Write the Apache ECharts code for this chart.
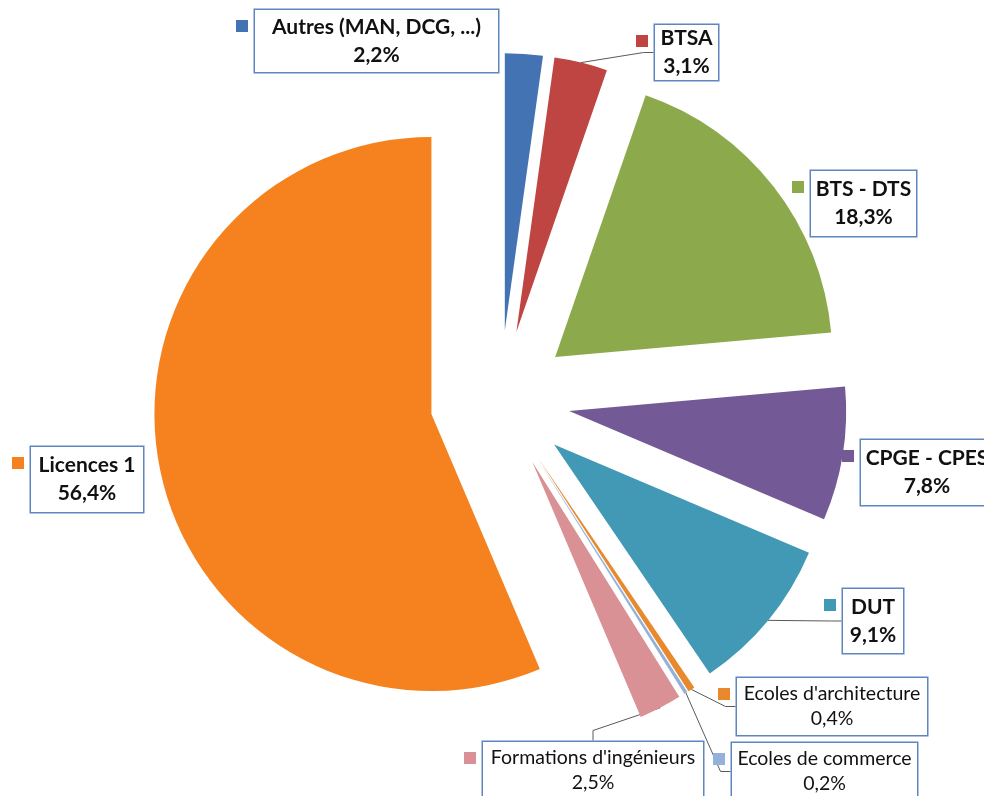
<!DOCTYPE html>
<html>
<head>
<meta charset="utf-8">
<style>
  html, body { margin: 0; padding: 0; background: #fff; }
  #chart { width: 984px; height: 796px; }
</style>
<script src="https://cdn.jsdelivr.net/npm/echarts@6/dist/echarts.min.js"></script>
</head>
<body>
<div id="chart"></div>
<script>
// données
const categories = ['Autres (MAN, DCG, ...)', 'BTSA', 'BTS - DTS', 'CPGE - CPES', 'DUT', "Ecoles d'architecture", 'Ecoles de commerce', "Formations d'ingénieurs", 'Licences 1']
const shares = [2.2, 3.1, 18.3, 7.8, 9.1, 0.4, 0.2, 2.5, 56.4]
const colors = ['#4373B3', '#BE4541', '#8CAA4C', '#735A96', '#4299B5', '#E8892E', '#93B1DB', '#D99195', '#F5821F']

// mise en page des étiquettes : [x, y, largeur, hauteur] de chaque cadre
const labelBoxes = [
  [255, 10, 243, 62],
  [655, 25, 63, 55],
  [811, 171, 105, 65],
  [861, 440, 132, 65],
  [843, 589, 60, 64],
  [737, 678, 190, 57],
  [732, 743, 185, 57],
  [483, 742, 220, 57],
  [31, 447, 112, 65]
]
const smallLabels = [5, 6, 7] // texte non gras
const withLeader = [1, 4, 5, 6, 7] // traits de rappel

const CENTER = [500, 400]
const RADIUS = 277
const EXPLODE = 70 // éclatement des parts, en px

const fmtPct = (v) => v.toFixed(1).replace('.', ',') + '%'
const FONT = 'Lato, "Open Sans", sans-serif'
const HIDDEN = 'rgba(0,0,0,0)'

const chart = echarts.init(document.getElementById('chart'))

const total = shares.reduce((a, b) => a + b, 0)
let cum = 0
const midAngles = shares.map((v) => {
  const m = ((cum + v / 2) / total) * 2 * Math.PI
  cum += v
  return m
})

const pieBase = {
  type: 'pie',
  radius: RADIUS,
  startAngle: 90,
  clockwise: true,
  avoidLabelOverlap: false,
  animation: false,
  emphasis: { disabled: true }
}

// une série par part, décalée le long de son angle médian
const sliceSeries = categories.map((cat, i) => ({
  ...pieBase,
  name: cat,
  z: 2,
  center: [CENTER[0] + EXPLODE * Math.sin(midAngles[i]), CENTER[1] - EXPLODE * Math.cos(midAngles[i])],
  itemStyle: { borderWidth: 0 },
  label: {
    show: true,
    position: 'outside',
    fontFamily: FONT,
    color: '#111',
    backgroundColor: '#fff',
    borderColor: '#5E86C1',
    borderWidth: 1.5,
    overflow: 'none',
    formatter: (p) => {
      const k = smallLabels.includes(p.dataIndex) ? 's' : 'b'
      return `{${k}|${p.name}}\n{${k}|${fmtPct(p.value)}}`
    },
    rich: {
      b: { fontFamily: FONT, fontSize: 21, fontWeight: 'bold', color: '#111', align: 'center', lineHeight: 28 },
      s: { fontFamily: FONT, fontSize: 19.5, fontWeight: 'normal', color: '#111', align: 'center', lineHeight: 25 }
    }
  },
  labelLine: { show: withLeader.includes(i), lineStyle: { color: '#5a5a5a', width: 1 }, length: 10, length2: 10 },
  labelLayout: (params) => {
    const b = labelBoxes[params.dataIndex]
    return { x: b[0], y: b[1], align: 'left', verticalAlign: 'top' }
  },
  data: categories.map((name, j) => ({
    name,
    value: shares[j],
    itemStyle: { color: j === i ? colors[j] : HIDDEN },
    label: j === i
      ? { width: labelBoxes[j][2], padding: [(labelBoxes[j][3] - (smallLabels.includes(j) ? 50 : 56)) / 2, 0] }
      : { show: false },
    labelLine: { show: j === i && withLeader.includes(j) }
  }))
}))

// petits carrés de légende à gauche des cadres
const keySeries = {
  ...pieBase,
  center: CENTER,
  z: 3,
  silent: true,
  itemStyle: { color: HIDDEN, borderWidth: 0 },
  label: {
    show: true,
    position: 'outside',
    formatter: '{sq|}',
    rich: { sq: { width: 12, height: 12 } }
  },
  labelLine: { show: false },
  labelLayout: (params) => {
    const b = labelBoxes[params.dataIndex]
    return { x: b[0] - 19, y: b[1] + 10, align: 'left', verticalAlign: 'top' }
  },
  data: categories.map((name, i) => ({
    name,
    value: shares[i],
    label: { backgroundColor: colors[i] }
  }))
}

chart.setOption({
  backgroundColor: '#fff',
  animation: false,
  series: [...sliceSeries, keySeries]
})
window.addEventListener('resize', () => chart.resize())
</script>
</body>
</html>
